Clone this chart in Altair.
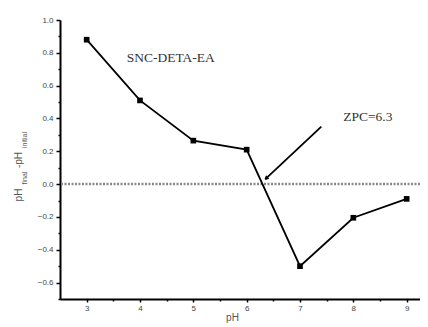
import altair as alt
import pandas as pd

# data
ph = [3, 4, 5, 6, 7, 8, 9]
dph = [0.88, 0.51, 0.265, 0.21, -0.50, -0.205, -0.09]
zero_line = [0.0]
arrow_start = (7.40, 0.35)
arrow_end = (6.35, 0.03)
label_sample = "SNC-DETA-EA"
label_zpc = "ZPC=6.3"
x_ticks = [3, 3.5, 4, 4.5, 5, 5.5, 6, 6.5, 7, 7.5, 8, 8.5, 9]
y_ticks = [-0.7, -0.6, -0.5, -0.4, -0.3, -0.2, -0.1, 0.0, 0.1, 0.2, 0.3,
           0.4, 0.5, 0.6, 0.7, 0.8, 0.9, 1.0]

df = pd.DataFrame({"pH": ph, "d": dph})

W, H = 360, 279
xs = alt.Scale(domain=[2.5, 9.25], nice=False, zero=False)
ys = alt.Scale(domain=[-0.7, 1.0], nice=False, zero=False)

x_axis = alt.Axis(
    values=x_ticks, tickCount=100, title="pH", grid=False, labelOverlap=False,
    labelExpr="datum.value % 1 == 0 ? format(datum.value, 'd') : ''",
    tickSize={"condition": {"test": "datum.value % 1 == 0", "value": 3}, "value": 2},
    domainColor="black", domainWidth=2, tickColor="black", tickWidth=1.5,
    labelFont="Liberation Sans", labelFontSize=8, labelColor="#444", labelPadding=2,
    titleFont="Liberation Sans", titleFontSize=10, titleFontWeight="normal",
    titleColor="#555", titlePadding=0, titleX=172,
)
y_axis = alt.Axis(
    values=y_ticks, tickCount=100, title=None, grid=False, labelOverlap=False,
    labelExpr="abs(round(datum.value*10)) % 2 == 0 ? format(datum.value, '.1f') : ''",
    tickSize={"condition": {"test": "abs(round(datum.value*10)) % 2 == 0", "value": 4}, "value": 2},
    domainColor="black", domainWidth=2, tickColor="black", tickWidth=1.5,
    labelFont="Liberation Sans", labelFontSize=8, labelColor="#444", labelPadding=3,
)

base = alt.Chart(df)

zero = alt.Chart(pd.DataFrame({"y": zero_line})).mark_rule(
    color="#888", strokeWidth=2.5, strokeDash=[2, 1.5]
).encode(y=alt.Y("y:Q", scale=ys, axis=y_axis))

line = base.mark_line(color="black", strokeWidth=1.8).encode(
    x=alt.X("pH:Q", scale=xs, axis=x_axis),
    y=alt.Y("d:Q", scale=ys, axis=y_axis),
)
pts = base.mark_point(shape="square", filled=True, color="black", size=32, opacity=1).encode(
    x=alt.X("pH:Q", scale=xs), y=alt.Y("d:Q", scale=ys)
)

arr_df = pd.DataFrame({"x1": [arrow_start[0]], "y1": [arrow_start[1]],
                       "x2": [arrow_end[0]], "y2": [arrow_end[1]]})
arrow = alt.Chart(arr_df).mark_rule(color="black", strokeWidth=1.8).encode(
    x=alt.X("x1:Q", scale=xs), y=alt.Y("y1:Q", scale=ys), x2="x2:Q", y2="y2:Q"
)
head = alt.Chart(arr_df).mark_point(
    shape="M0,0L-0.6,1.2M0,0L0.6,1.2", filled=False, color="black",
    strokeWidth=1.5, size=30, angle=227, opacity=1
).encode(x=alt.X("x2:Q", scale=xs), y=alt.Y("y2:Q", scale=ys))

txt_df = pd.DataFrame({"x": [3.75, 7.81], "y": [0.77, 0.41], "t": [label_sample, label_zpc]})
texts = alt.Chart(txt_df).mark_text(
    font="Liberation Serif", fontSize=13.5, align="left", baseline="middle", color="#333"
).encode(x=alt.X("x:Q", scale=xs), y=alt.Y("y:Q", scale=ys), text="t:N")

# y-axis title with subscripts: pH_final - pH_initial
one = pd.DataFrame({"a": [0]})
def ttl(t, px, py, fs):
    return alt.Chart(one).mark_text(
        font="Liberation Sans", fontSize=fs, angle=270, align="center",
        baseline="middle", color="#555"
    ).encode(x=alt.value(px), y=alt.value(py), text=alt.value(t))

ytitle = [
    ttl("pH", -41, 175, 10),
    ttl("final", -35, 158, 7),
    ttl("-pH", -41, 140, 10),
    ttl("initial", -35, 120, 7),
]

chart = alt.layer(zero, line, pts, arrow, head, texts, *ytitle).properties(
    width=W, height=H,
    autosize=alt.AutoSizeParams(type="none"),
    padding={"left": 52, "top": 12, "right": 0, "bottom": 28},
).configure_view(stroke=None)

chart.save("out.html", embed_options={"renderer": "svg", "actions": False})
